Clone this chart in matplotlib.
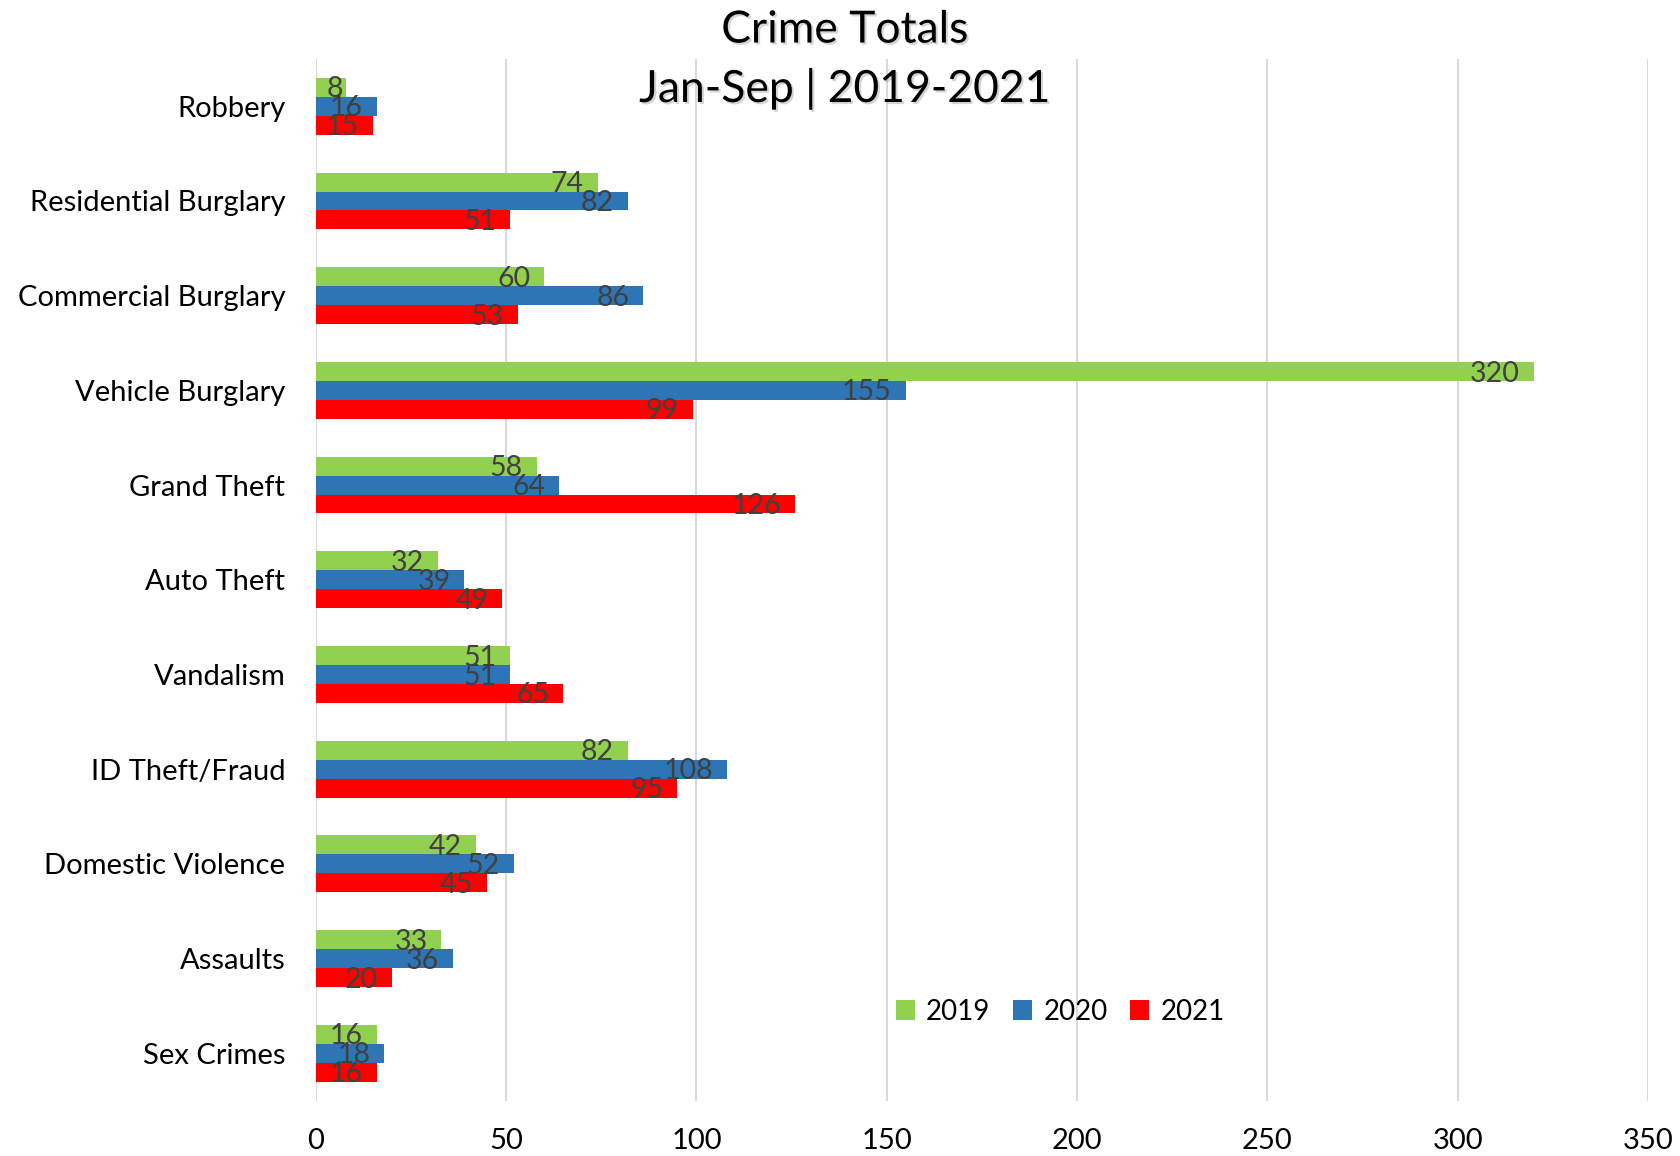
import matplotlib
matplotlib.use("Agg")
import matplotlib.pyplot as plt
import matplotlib.patheffects as pe
import numpy as np

# chart data (top to bottom as shown)
categories = [
    "Robbery",
    "Residential Burglary",
    "Commercial Burglary",
    "Vehicle Burglary",
    "Grand Theft",
    "Auto Theft",
    "Vandalism",
    "ID Theft/Fraud",
    "Domestic Violence",
    "Assaults",
    "Sex Crimes",
]
vals_2019 = [8, 74, 60, 320, 58, 32, 51, 82, 42, 33, 16]
vals_2020 = [16, 82, 86, 155, 64, 39, 51, 108, 52, 36, 18]
vals_2021 = [15, 51, 53, 99, 126, 49, 65, 95, 45, 20, 16]
years = ["2019", "2020", "2021"]
x_ticks = [0, 50, 100, 150, 200, 250, 300, 350]

colors = ["#92D050", "#2E75B6", "#FF0000"]

plt.rcParams["font.family"] = ["Lato", "DejaVu Sans"]

fig = plt.figure(figsize=(16.8, 11.56), dpi=100)
ax = fig.add_axes([0.188, 0.048, 0.793, 0.901])

n = len(categories)
y = np.arange(n)[::-1].astype(float)
h = 0.2
series = [vals_2019, vals_2020, vals_2021]
offsets = [h, 0.0, -h]

for vals, off, col, lab in zip(series, offsets, colors, years):
    bars = ax.barh(y + off, vals, height=h, color=col, label=lab, zorder=2)
    for b, v in zip(bars, vals):
        # small bars: label sits at the end, otherwise a bit inside
        dx = -2 if v < 10 else -10
        ax.annotate(
            str(v),
            xy=(v, b.get_y() + b.get_height() / 2),
            xytext=(dx, -1.5),
            textcoords="offset points",
            ha="right",
            va="center",
            fontsize=20.5,
            color="#404040",
            zorder=3,
        )

ax.set_xlim(0, 350)
ax.set_ylim(-0.5, n - 0.5)
ax.set_xticks(x_ticks)
ax.set_xticklabels([str(t) for t in x_ticks], fontsize=21)
ax.set_yticks(y)
ax.set_yticklabels(categories, fontsize=21)
ax.tick_params(axis="both", length=0)
ax.tick_params(axis="x", pad=20)
ax.tick_params(axis="y", pad=22)

ax.grid(axis="x", color="#D9D9D9", linewidth=1.5, zorder=0)
ax.set_axisbelow(True)
for s in ax.spines.values():
    s.set_visible(False)

shadow = [pe.SimplePatchShadow(offset=(1.5, -1.5), shadow_rgbFace="#888888", alpha=0.35), pe.Normal()]
fig.text(0.503, 0.974, "Crime Totals", ha="center", va="center", fontsize=32, path_effects=shadow)
fig.text(0.503, 0.923, "Jan-Sep | 2019-2021", ha="center", va="center", fontsize=32, path_effects=shadow)

ax.legend(
    loc="center",
    bbox_to_anchor=(0.631, 0.125),
    bbox_transform=fig.transFigure,
    ncol=3,
    frameon=False,
    fontsize=20,
    handlelength=0.7,
    handleheight=0.7,
    handletextpad=0.4,
    columnspacing=0.8,
)

fig.savefig("out.png", dpi=100)
